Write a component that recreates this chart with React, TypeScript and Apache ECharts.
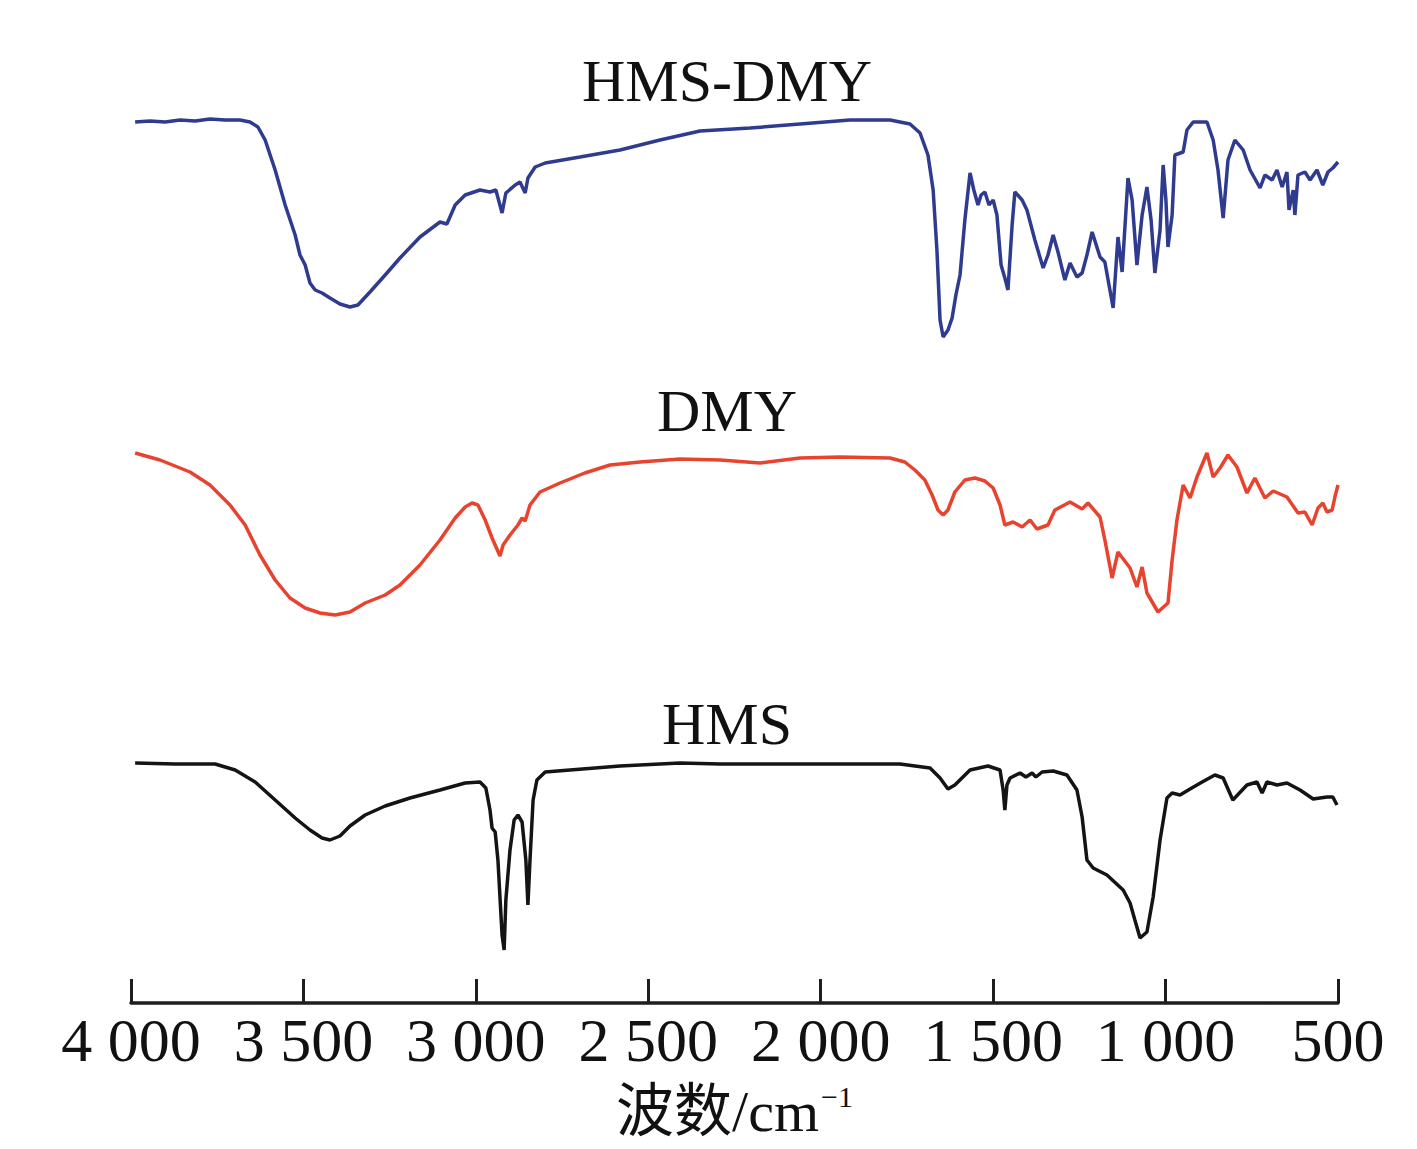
import { useEffect, useRef } from "react";
import * as echarts from "echarts";

// wavenumbers (cm-1) and offset transmittance
const hmsDmyWn = [3988, 3945, 3901, 3858, 3814, 3771, 3727, 3684, 3655, 3632, 3611, 3582, 3553, 3524, 3510, 3495, 3481, 3466, 3446, 3423, 3394, 3365, 3342, 3307, 3263, 3220, 3162, 3104, 3084, 3060, 3031, 2988, 2959, 2942, 2924, 2913, 2886, 2872, 2857, 2849, 2828, 2799, 2698, 2582, 2466, 2350, 2205, 2060, 1915, 1799, 1741, 1712, 1689, 1674, 1663, 1654, 1645, 1631, 1619, 1608, 1596, 1582, 1567, 1556, 1544, 1535, 1524, 1512, 1500, 1489, 1477, 1466, 1457, 1445, 1437, 1416, 1402, 1379, 1355, 1341, 1326, 1312, 1292, 1277, 1257, 1242, 1228, 1213, 1190, 1176, 1164, 1152, 1138, 1126, 1109, 1097, 1083, 1068, 1054, 1042, 1031, 1016, 1007, 999, 993, 981, 973, 949, 938, 920, 880, 862, 848, 833, 819, 799, 775, 755, 726, 712, 691, 677, 662, 648, 642, 630, 625, 616, 596, 581, 561, 544, 529, 515, 500];
const hmsDmyT = [88.1, 88.2, 88.1, 88.3, 88.2, 88.4, 88.3, 88.3, 88.1, 87.6, 86.3, 83.3, 79.8, 76.8, 74.8, 73.8, 72.0, 71.3, 71.0, 70.5, 69.9, 69.6, 69.8, 71.1, 72.8, 74.5, 76.6, 78.1, 77.9, 79.8, 80.8, 81.3, 81.1, 81.3, 79.0, 81.0, 81.8, 82.1, 81.0, 82.5, 83.6, 84.0, 84.6, 85.3, 86.3, 87.2, 87.5, 87.9, 88.3, 88.3, 87.9, 87.0, 84.8, 81.3, 75.3, 68.3, 66.6, 67.3, 68.5, 70.8, 72.8, 78.3, 83.0, 81.3, 79.8, 80.8, 81.1, 79.8, 80.3, 78.8, 73.8, 72.5, 71.3, 77.8, 81.1, 80.3, 79.3, 76.3, 73.5, 74.8, 76.8, 75.1, 72.3, 74.0, 72.6, 73.0, 74.8, 77.1, 74.6, 74.1, 71.8, 69.5, 76.6, 73.1, 82.5, 80.3, 73.8, 78.8, 81.6, 78.3, 73.0, 77.3, 83.8, 80.3, 75.6, 78.8, 84.8, 85.1, 87.3, 88.1, 88.1, 86.3, 83.3, 78.5, 84.3, 86.3, 85.3, 83.3, 81.5, 82.8, 82.3, 83.3, 81.6, 83.1, 79.3, 81.3, 78.8, 82.8, 83.1, 82.3, 83.3, 81.8, 83.1, 83.5, 84.1];

const dmyWn = [3988, 3916, 3829, 3771, 3713, 3669, 3626, 3582, 3539, 3495, 3452, 3408, 3365, 3321, 3263, 3220, 3162, 3104, 3060, 3031, 3011, 2994, 2973, 2953, 2930, 2921, 2901, 2878, 2866, 2857, 2843, 2814, 2756, 2684, 2611, 2524, 2408, 2292, 2176, 2060, 1944, 1799, 1756, 1727, 1698, 1677, 1660, 1645, 1631, 1611, 1582, 1553, 1524, 1500, 1480, 1466, 1442, 1416, 1393, 1373, 1341, 1321, 1277, 1242, 1225, 1190, 1176, 1155, 1138, 1103, 1083, 1068, 1054, 1022, 993, 981, 967, 949, 929, 909, 880, 862, 842, 819, 793, 764, 741, 712, 688, 648, 616, 596, 575, 558, 544, 532, 517, 509, 500];
const dmyT = [55.0, 54.3, 53.1, 51.8, 49.8, 47.8, 44.8, 42.3, 40.5, 39.5, 39.0, 38.8, 39.1, 40.0, 40.8, 41.8, 43.8, 46.3, 48.5, 49.6, 50.0, 49.8, 48.3, 46.5, 44.7, 45.8, 46.8, 47.8, 48.5, 48.2, 49.8, 51.1, 52.0, 53.0, 53.8, 54.1, 54.4, 54.3, 54.0, 54.5, 54.6, 54.5, 54.1, 53.3, 52.3, 50.8, 49.3, 48.8, 49.3, 51.1, 52.3, 52.5, 52.2, 51.5, 49.8, 47.8, 48.1, 47.6, 48.3, 47.4, 47.8, 49.3, 50.1, 49.4, 50.0, 48.6, 46.3, 42.5, 45.1, 43.5, 41.6, 43.6, 41.0, 39.1, 40.0, 44.3, 48.3, 51.8, 50.5, 52.6, 55.0, 52.6, 53.5, 54.8, 53.6, 51.0, 52.5, 50.5, 51.2, 50.6, 49.0, 49.1, 47.8, 49.5, 50.0, 49.1, 49.3, 50.6, 51.8];

const hmsWn = [3988, 3872, 3756, 3698, 3640, 3582, 3524, 3481, 3446, 3423, 3394, 3365, 3321, 3263, 3191, 3104, 3031, 2988, 2971, 2959, 2953, 2944, 2936, 2924, 2918, 2913, 2901, 2889, 2878, 2866, 2855, 2849, 2843, 2834, 2823, 2799, 2727, 2582, 2408, 2292, 2060, 1770, 1683, 1654, 1631, 1611, 1567, 1515, 1480, 1471, 1466, 1460, 1451, 1422, 1405, 1387, 1376, 1358, 1326, 1286, 1257, 1242, 1228, 1210, 1170, 1123, 1103, 1089, 1074, 1054, 1036, 1016, 996, 981, 958, 929, 894, 857, 833, 805, 764, 735, 720, 706, 677, 648, 610, 572, 532, 515, 503];
const hmsT = [24.0, 23.9, 23.9, 23.3, 22.1, 20.3, 18.5, 17.3, 16.5, 16.3, 16.7, 17.7, 18.8, 19.7, 20.5, 21.3, 22.0, 22.1, 21.5, 19.3, 17.5, 17.1, 14.3, 6.8, 5.3, 10.3, 15.3, 18.3, 18.8, 18.1, 14.3, 9.8, 14.3, 20.3, 22.3, 23.1, 23.3, 23.7, 24.0, 23.9, 23.9, 23.9, 23.5, 22.5, 21.4, 21.8, 23.3, 23.7, 23.3, 21.3, 19.3, 21.8, 22.5, 23.0, 22.6, 23.0, 22.6, 23.1, 23.2, 22.8, 21.3, 18.6, 14.3, 13.5, 12.8, 11.3, 10.0, 8.3, 6.5, 7.1, 10.6, 16.3, 20.5, 21.0, 20.8, 21.4, 22.1, 22.8, 22.5, 20.3, 21.8, 22.1, 21.0, 22.1, 21.8, 22.0, 21.3, 20.4, 20.6, 20.6, 19.8];

const seriesNames = ["HMS-DMY", "DMY", "HMS"];
const seriesColors = ["#2f3b8f", "#e8432e", "#141414"];
const tickValues = [4000, 3500, 3000, 2500, 2000, 1500, 1000, 500];

const serif = "'Liberation Serif', 'Times New Roman', 'Noto Sans CJK SC', serif";

const pairUp = (wn: number[], t: number[]) => wn.map((w, i) => [w, t[i]]);

export default function App() {
  const chartRef = useRef<HTMLDivElement>(null);

  useEffect(() => {
    document.body.style.margin = "0";
    if (!chartRef.current) return;
    const chart = echarts.init(chartRef.current, null, { renderer: "svg" });

    const curves = [pairUp(hmsDmyWn, hmsDmyT), pairUp(dmyWn, dmyT), pairUp(hmsWn, hmsT)];
    const titleY = [81, 411, 724];

    chart.setOption({
      animation: false,
      backgroundColor: "#ffffff",
      grid: { left: 131, right: 79, top: 103, bottom: 146 },
      xAxis: {
        type: "value",
        inverse: true,
        min: 500,
        max: 4000,
        interval: 500,
        axisLine: { show: true, onZero: false, lineStyle: { color: "#1e1e1e", width: 3.5 } },
        axisTick: { show: true, inside: true, length: 24, lineStyle: { color: "#1e1e1e", width: 3 } },
        splitLine: { show: false },
        axisLabel: {
          margin: 6,
          color: "#111",
          fontSize: 62,
          fontFamily: serif,
          showMinLabel: true,
          showMaxLabel: true,
          formatter: (v: number) =>
            tickValues.includes(v) ? String(v).replace(/\B(?=(\d{3})+(?!\d))/g, " ") : "",
        },
        name: "{a|波数/cm}{b|−1}",
        nameLocation: "middle",
        nameGap: 78,
        nameTextStyle: {
          rich: {
            a: { fontSize: 58, fontFamily: serif, color: "#111" },
            b: { fontSize: 30, fontFamily: serif, color: "#111", padding: [0, 0, 30, 2] },
          },
        },
      },
      yAxis: { type: "value", min: 0, max: 90, show: false },
      graphic: seriesNames.map((name, i) => ({
        type: "text",
        x: 727,
        y: titleY[i],
        style: {
          text: name,
          fontSize: 60,
          fontFamily: serif,
          fill: "#111",
          textAlign: "center",
          textVerticalAlign: "middle",
        },
      })),
      series: seriesNames.map((name, i) => ({
        name,
        type: "line",
        data: curves[i],
        showSymbol: false,
        smooth: false,
        lineStyle: { color: seriesColors[i], width: 3.5 },
      })),
    });

    const onResize = () => chart.resize();
    window.addEventListener("resize", onResize);
    return () => {
      window.removeEventListener("resize", onResize);
      chart.dispose();
    };
  }, []);

  return <div ref={chartRef} style={{ width: 1417, height: 1149 }} />;
}
